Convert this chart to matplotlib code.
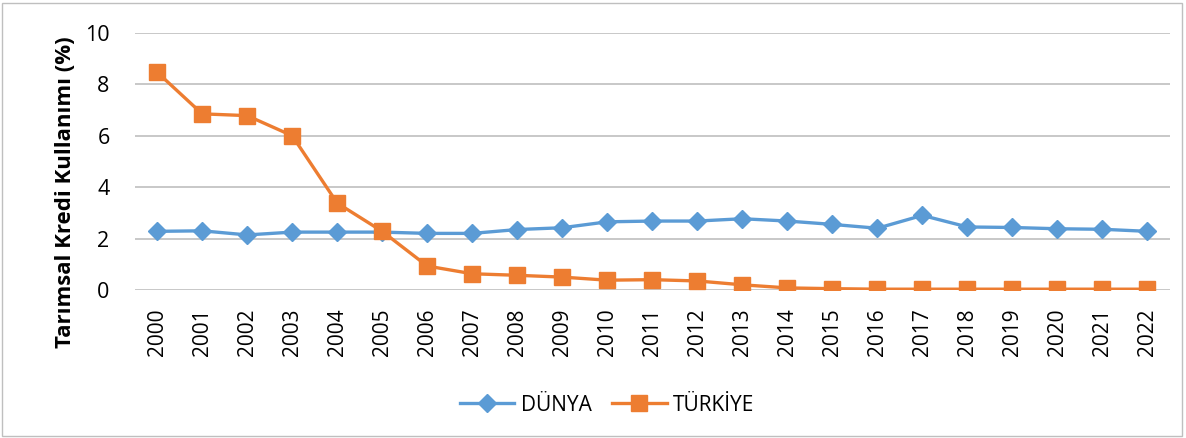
import matplotlib
matplotlib.use("Agg")
import matplotlib.pyplot as plt
from matplotlib.patches import Rectangle

years = [str(y) for y in range(2000, 2023)]
dunya = [2.28, 2.30, 2.14, 2.25, 2.25, 2.25, 2.20, 2.20, 2.35, 2.42, 2.65, 2.68,
         2.68, 2.77, 2.68, 2.55, 2.40, 2.90, 2.45, 2.43, 2.38, 2.36, 2.28]
turkiye = [8.47, 6.85, 6.78, 6.00, 3.38, 2.28, 0.93, 0.63, 0.57, 0.50, 0.38, 0.40,
           0.35, 0.20, 0.08, 0.05, 0.03, 0.03, 0.03, 0.03, 0.03, 0.03, 0.03]

plt.rcParams['font.family'] = ['Open Sans', 'DejaVu Sans']

fig = plt.figure(figsize=(11.86, 4.38), dpi=100)
ax = fig.add_axes([0.1135, 0.338, 0.873, 0.587])

x = range(len(years))
ax.plot(x, dunya, color="#5B9BD5", lw=2.4, marker="D", ms=9, label="DÜNYA", zorder=3)
ax.plot(x, turkiye, color="#ED7D31", lw=2.4, marker="s", ms=11, label="TÜRKİYE", zorder=4)

ax.set_xlim(-0.5, len(years) - 0.5)
ax.set_ylim(0, 10)
ax.set_yticks(range(0, 11, 2))
ax.set_xticks(list(x))
ax.set_xticklabels(years, rotation=90, fontsize=15)
ax.tick_params(axis="y", labelsize=15.5, length=0, pad=18)
ax.tick_params(axis="x", length=0, pad=13)
ax.yaxis.grid(True, color="#BFBFBF", lw=1.2)
ax.set_axisbelow(True)
for s in ax.spines.values():
    s.set_visible(False)
ax.set_ylabel("Tarımsal Kredi Kullanımı (%)", fontsize=16, fontweight="bold")
ax.yaxis.set_label_coords(-0.057, 0.38)

fig.legend(loc="center", bbox_to_anchor=(0.512, 0.075), ncol=2, frameon=False,
           fontsize=15, handlelength=2.6, handletextpad=0.3, columnspacing=1.0)

fig.patches.append(Rectangle((0.002, 0.004), 0.995, 0.99, transform=fig.transFigure,
                             fill=False, edgecolor="#BFBFBF", lw=1))
fig.savefig("out.png", dpi=100)
